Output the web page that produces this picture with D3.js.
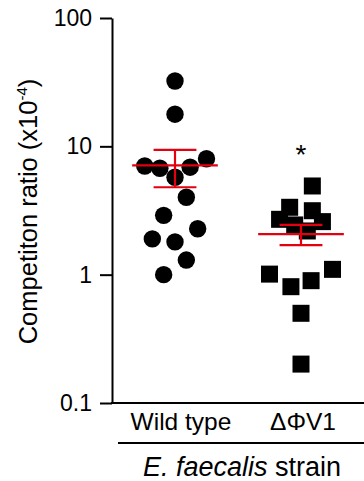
<!DOCTYPE html>
<html>
<head>
<meta charset="utf-8">
<script src="https://cdn.jsdelivr.net/npm/d3@7"></script>
<style>
  html, body { margin: 0; padding: 0; background: #fff; }
  text { font-family: 'Liberation Sans', Arial, sans-serif; fill: #000; }
</style>
</head>
<body>
<svg id="chart"></svg>
<script>
// data
const categories = ['Wild type', 'ΔΦV1']
const wildType = [32.3, 17.8, 8.0, 7.03, 6.75, 6.88, 5.74, 4.01, 2.9, 2.28, 1.9, 1.8, 1.3, 1.0]
const wildTypeJitter = [0, 0, 0.25, -0.24, -0.12, 0.12, 0, 0.09, -0.09, 0.18, -0.18, 0, 0.09, -0.09]
const deltaV1 = [4.91, 3.35, 3.15, 2.7, 2.59, 2.44, 2.19, 1.01, 1.1, 0.806, 0.898, 0.5, 0.201]
const deltaV1Jitter = [0.09, -0.09, 0.09, -0.17, 0.17, -0.05, 0.05, -0.25, 0.25, -0.08, 0.08, 0, 0]
const means = [7.1, 2.07]
const sems = [2.3, 0.37]
const significance = ['', '*']
const yTicks = [0.1, 1, 10, 100]
const yDomain = [0.1, 100]

const width = 364
const height = 481
const margin = { top: 18, right: 0, bottom: 78, left: 112 }
const red = '#e3000f'

const svg = d3.select('#chart').attr('width', width).attr('height', height).attr('viewBox', [0, 0, width, height])

const y = d3.scaleLog().domain(yDomain).range([height - margin.bottom, margin.top])
const x = d3.scalePoint().domain(categories).range([margin.left, width]).padding(0.5)
const step = x.step()

// y axis
const yAxis = svg.append('g')
  .attr('transform', `translate(${margin.left},0)`)
  .call(d3.axisLeft(y).tickValues(yTicks).tickFormat(d3.format('~g')).tickSize(12).tickPadding(8).tickSizeOuter(0))
yAxis.select('.domain').attr('stroke-width', 2)
yAxis.selectAll('.tick line').attr('stroke-width', 2)
yAxis.selectAll('.tick text').style('font-size', '23px')

// x baseline + category labels
svg.append('line')
  .attr('x1', margin.left - 1).attr('x2', width)
  .attr('y1', y(yDomain[0])).attr('y2', y(yDomain[0]))
  .attr('stroke', '#000').attr('stroke-width', 2)

svg.append('g').selectAll('text')
  .data(categories)
  .join('text')
  .attr('x', (d) => x(d) + (d === categories[0] ? 6 : 2))
  .attr('y', y(yDomain[0]) + 27)
  .attr('text-anchor', 'middle')
  .style('font-size', '24.5px')
  .text((d) => d)

// strain bracket
svg.append('line')
  .attr('x1', margin.left + 6).attr('x2', width)
  .attr('y1', y(yDomain[0]) + 40).attr('y2', y(yDomain[0]) + 40)
  .attr('stroke', '#000').attr('stroke-width', 2)

const xTitle = svg.append('text')
  .attr('x', 242)
  .attr('y', height - 5)
  .attr('text-anchor', 'middle')
  .style('font-size', '27px')
xTitle.append('tspan').style('font-style', 'italic').text('E. faecalis')
xTitle.append('tspan').text(' strain')

// y title
const yTitle = svg.append('text')
  .attr('transform', `translate(37,${(margin.top + height - margin.bottom) / 2 + 1}) rotate(-90)`)
  .attr('text-anchor', 'middle')
  .style('font-size', '25.5px')
yTitle.append('tspan').text('Competiton ratio (x10')
yTitle.append('tspan').attr('dy', -10).style('font-size', '15px').text('-4')
yTitle.append('tspan').attr('dy', 10).text(')')

// points
const wtPts = wildType.map((v, i) => ({ v, j: wildTypeJitter[i] }))
const dvPts = deltaV1.map((v, i) => ({ v, j: deltaV1Jitter[i] }))
const side = 17

svg.append('g').selectAll('circle')
  .data(wtPts)
  .join('circle')
  .attr('cx', (d) => x(categories[0]) + d.j * step)
  .attr('cy', (d) => y(d.v))
  .attr('r', 8.7)
  .attr('fill', '#000')

svg.append('g').selectAll('rect')
  .data(dvPts)
  .join('rect')
  .attr('x', (d) => x(categories[1]) + d.j * step - side / 2)
  .attr('y', (d) => y(d.v) - side / 2)
  .attr('width', side)
  .attr('height', side)
  .attr('fill', '#000')

// mean +/- sem
const stats = categories.map((c, i) => ({ c, m: means[i], s: sems[i], sig: significance[i] }))
const errG = svg.append('g').attr('stroke', red).attr('stroke-width', 2.2)
stats.forEach((d) => {
  const cx = x(d.c)
  errG.append('line').attr('x1', cx - 0.34 * step).attr('x2', cx + 0.34 * step).attr('y1', y(d.m)).attr('y2', y(d.m))
  errG.append('line').attr('x1', cx).attr('x2', cx).attr('y1', y(d.m + d.s)).attr('y2', y(d.m - d.s))
  errG.append('line').attr('x1', cx - 0.17 * step).attr('x2', cx + 0.17 * step).attr('y1', y(d.m + d.s)).attr('y2', y(d.m + d.s))
  errG.append('line').attr('x1', cx - 0.17 * step).attr('x2', cx + 0.17 * step).attr('y1', y(d.m - d.s)).attr('y2', y(d.m - d.s))
})

// significance marks
const maxes = [d3.max(wildType), d3.max(deltaV1)]
svg.append('g').selectAll('text')
  .data(stats)
  .join('text')
  .attr('x', (d) => x(d.c))
  .attr('y', (d, i) => y(maxes[i]) - 22)
  .attr('text-anchor', 'middle')
  .style('font-size', '28px')
  .text((d) => d.sig)
</script>
</body>
</html>
